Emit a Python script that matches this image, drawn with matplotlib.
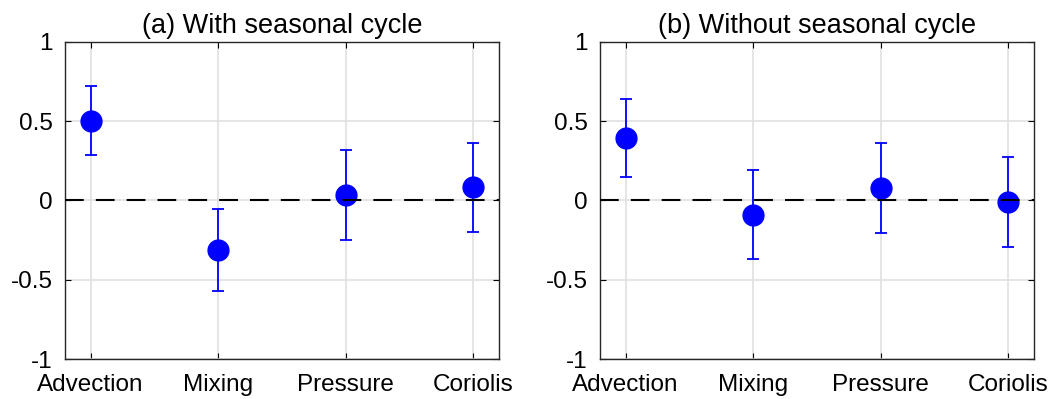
import matplotlib
matplotlib.use("Agg")
from matplotlib import pyplot as plt

plt.rcParams['font.family'] = ['Liberation Sans', 'DejaVu Sans']

categories = ['Advection', 'Mixing', 'Pressure', 'Coriolis']
titles = ['(a) With seasonal cycle', '(b) Without seasonal cycle']

# central values and error-bar ends for each panel
with_mean = [0.503, -0.31, 0.035, 0.083]
with_upper = [0.721, -0.051, 0.316, 0.364]
with_lower = [0.286, -0.57, -0.251, -0.20]

without_mean = [0.393, -0.089, 0.081, -0.007]
without_upper = [0.637, 0.192, 0.362, 0.276]
without_lower = [0.148, -0.37, -0.203, -0.293]

panels = [(with_mean, with_upper, with_lower),
          (without_mean, without_upper, without_lower)]

fig = plt.figure(figsize=(10.53, 3.99), dpi=100)
lefts = [65 / 1053, 600 / 1053]
x = list(range(1, len(categories) + 1))

for i, (mean, upper, lower) in enumerate(panels):
    ax = fig.add_axes([lefts[i], 0.0995, 434 / 1053, 0.796])
    yerr = [[m - l for m, l in zip(mean, lower)],
            [u - m for m, u in zip(mean, upper)]]
    ax.errorbar(x, mean, yerr=yerr, fmt='o', color='blue', ecolor='blue',
                markersize=15, elinewidth=1.3, capsize=4, capthick=1.3, zorder=3)
    # dashed zero line drawn on top of the markers
    ax.axhline(0, color='black', linestyle=(0, (9, 5.8)), linewidth=1.5, zorder=4)
    ax.set_xlim(0.8, 4.2)
    ax.set_ylim(-1, 1)
    ax.set_xticks(x)
    ax.set_xticklabels(categories)
    ax.set_yticks([-1, -0.5, 0, 0.5, 1])
    ax.set_yticklabels(['-1', '-0.5', '0', '0.5', '1'])
    ax.grid(True, color='#e0e0e0', linewidth=1.2, zorder=0)
    ax.set_axisbelow(True)
    ax.tick_params(direction='in', top=True, right=True, length=4,
                   labelsize=17.5, colors='black', width=0.8)
    ax.tick_params(axis='x', pad=10.5)
    ax.tick_params(axis='y', pad=9)
    for s in ax.spines.values():
        s.set_linewidth(1.0)
        s.set_color('#262626')
    ax.set_title(titles[i], fontsize=19.5, pad=6)

plt.savefig('out.png', dpi=100)
